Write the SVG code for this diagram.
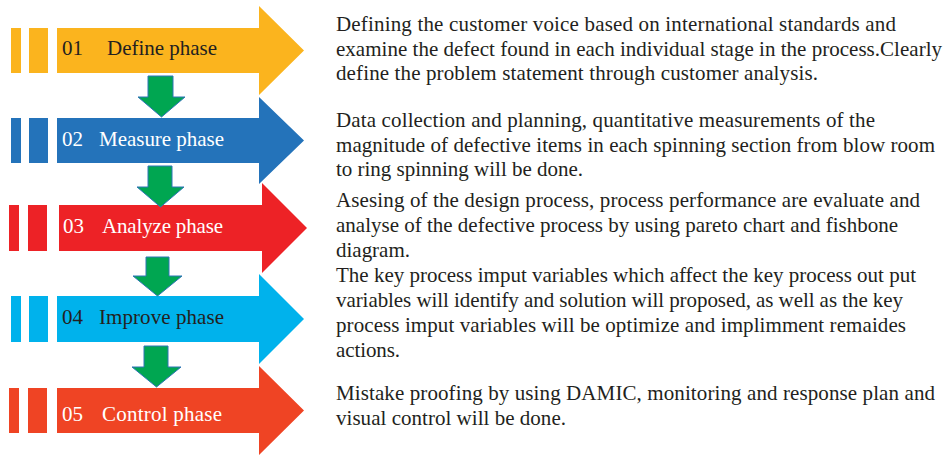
<svg xmlns="http://www.w3.org/2000/svg" width="948" height="455" viewBox="0 0 948 455">
  <style>
    .lbl { font-family: "Liberation Serif", "Times New Roman", serif; font-size: 21px; }
    .dark { fill: #231f20; }
    .light { fill: #ffffff; }
    .desc { font-family: "Liberation Serif", "Times New Roman", serif; font-size: 21px; fill: #231f20; }
    .flow { fill: #00a651; stroke: #2e75b6; stroke-width: 1; }
  </style>
  <rect width="948" height="455" fill="#ffffff"/>

  <!-- phase arrows -->
  <g id="define">
    <g fill="#fbb41e">
      <rect x="11" y="28" width="10" height="45"/>
      <rect x="29" y="28" width="19" height="45"/>
      <polygon points="57,28 259,28 259,6 304,50.5 259,95 259,73 57,73"/>
    </g>
    <text class="lbl dark" x="62" y="55">01</text>
    <text class="lbl dark" x="107" y="55" textLength="110">Define phase</text>
  </g>

  <g id="measure">
    <g fill="#2473ba">
      <rect x="11" y="118" width="10" height="45"/>
      <rect x="29" y="118" width="19" height="45"/>
      <polygon points="57,118 259,118 259,97 304,140.5 259,184 259,163 57,163"/>
    </g>
    <text class="lbl light" x="62" y="145.5">02</text>
    <text class="lbl light" x="99" y="145.5" textLength="125">Measure phase</text>
  </g>

  <g id="analyze">
    <g fill="#ed2226">
      <rect x="9" y="205" width="10" height="46"/>
      <rect x="28" y="205" width="19" height="46"/>
      <polygon points="59,205 262,205 262,183 307,228 262,273 262,251 59,251"/>
    </g>
    <text class="lbl light" x="63" y="233">03</text>
    <text class="lbl light" x="102" y="233" textLength="121">Analyze phase</text>
  </g>

  <g id="improve">
    <g fill="#00b2ec">
      <rect x="11" y="296" width="10" height="46"/>
      <rect x="29" y="296" width="19" height="46"/>
      <polygon points="57,296 259,296 259,274 304,319 259,364 259,342 57,342"/>
    </g>
    <text class="lbl dark" x="62" y="323.5">04</text>
    <text class="lbl dark" x="99" y="323.5" textLength="125">Improve phase</text>
  </g>

  <g id="control">
    <g fill="#ef4424">
      <rect x="9" y="388" width="10" height="45"/>
      <rect x="28" y="388" width="19" height="45"/>
      <polygon points="57,388 259,388 259,366 304,410.5 259,455 259,433 57,433"/>
    </g>
    <text class="lbl light" x="62" y="421">05</text>
    <text class="lbl light" x="102" y="421" textLength="120">Control phase</text>
  </g>

  <!-- flow connectors between phases -->
  <g id="connectors">
    <polygon class="flow" points="148,76 173,76 173,97 185,97 161.5,117 138,97 148,97"/>
    <polygon class="flow" points="148,166 172,166 172,187 184,187 160.5,207 137,187 148,187"/>
    <polygon class="flow" points="146,257 169,257 169,276 182,276 157.5,296 133,276 146,276"/>
    <polygon class="flow" points="144,346 168,346 168,367 181,367 156.5,387 132,367 144,367"/>
  </g>

  <!-- phase descriptions -->
  <g id="desc-define">
    <text class="desc" x="336" y="31" textLength="560">Defining the customer voice based on international standards and</text>
    <text class="desc" x="336" y="55.5" textLength="606">examine the defect found in each individual stage in the process.Clearly</text>
    <text class="desc" x="336" y="80" textLength="482">define the problem statement through customer analysis.</text>
  </g>
  <g id="desc-measure">
    <text class="desc" x="336" y="127" textLength="539">Data collection and planning, quantitative measurements of the</text>
    <text class="desc" x="336" y="151.5" textLength="599">magnitude of defective items in each spinning section from blow room</text>
    <text class="desc" x="336" y="176" textLength="247">to ring spinning will be done.</text>
  </g>
  <g id="desc-analyze">
    <text class="desc" x="336" y="207" textLength="584">Asesing of the design process, process performance are evaluate and</text>
    <text class="desc" x="336" y="232" textLength="562">analyse of the defective process by using pareto chart and fishbone</text>
    <text class="desc" x="336" y="257" textLength="74">diagram.</text>
  </g>
  <g id="desc-improve">
    <text class="desc" x="336" y="282" textLength="580">The key process imput variables which affect the key process out put</text>
    <text class="desc" x="336" y="307" textLength="567">variables will identify and solution will proposed, as well as the key</text>
    <text class="desc" x="336" y="332" textLength="570">process imput variables will be optimize and implimment remaides</text>
    <text class="desc" x="336" y="357" textLength="64">actions.</text>
  </g>
  <g id="desc-control">
    <text class="desc" x="336" y="400" textLength="599">Mistake proofing by using DAMIC, monitoring and response plan and</text>
    <text class="desc" x="336" y="425" textLength="230">visual control will be done.</text>
  </g>
</svg>
